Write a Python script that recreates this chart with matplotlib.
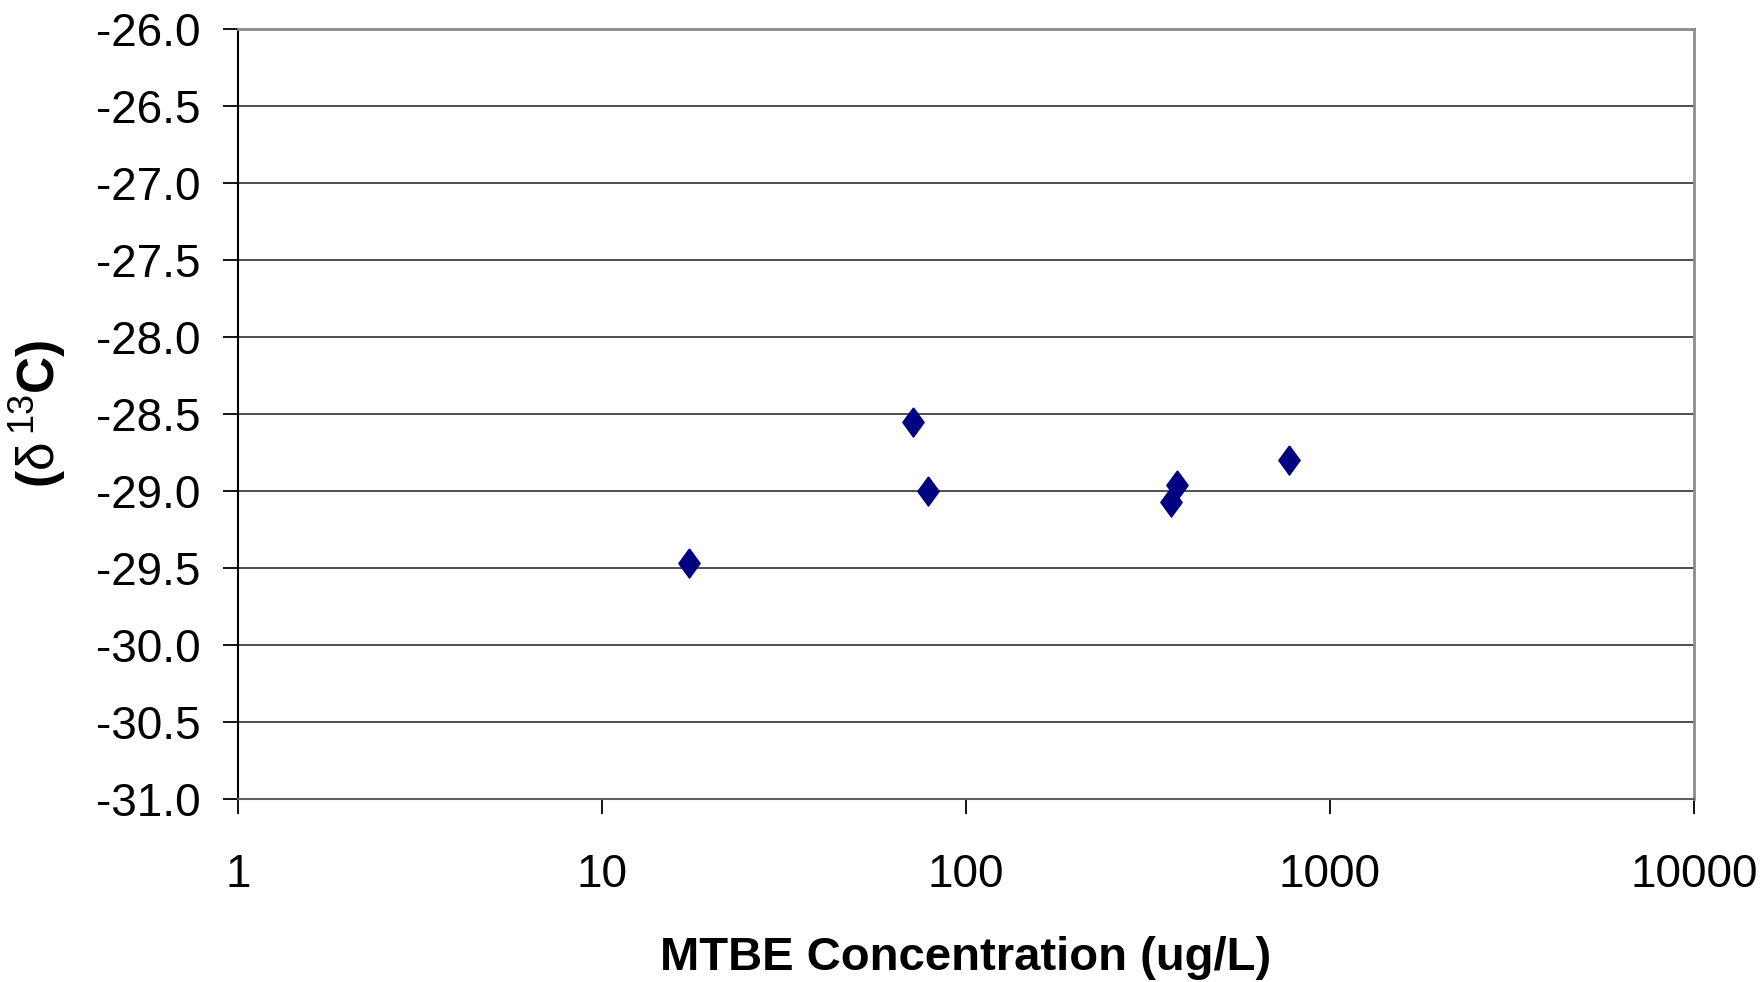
import matplotlib
matplotlib.use("Agg")
import matplotlib.pyplot as plt

plt.rcParams["font.family"] = ["Liberation Sans", "DejaVu Sans"]
plt.rcParams["mathtext.fontset"] = "custom"
plt.rcParams["mathtext.rm"] = "Liberation Sans"
plt.rcParams["mathtext.it"] = "Liberation Sans"

# MTBE concentration (ug/L) and delta 13C values
conc = [17.3, 71.3, 78.8, 379, 366, 773]
d13c = [-29.47, -28.55, -29.00, -28.96, -29.07, -28.80]

y_ticks = [-31.0, -30.5, -30.0, -29.5, -29.0, -28.5, -28.0, -27.5, -27.0, -26.5, -26.0]
x_ticks = [1, 10, 100, 1000, 10000]

fig = plt.figure(figsize=(17.64, 9.82), dpi=100)
ax = fig.add_axes([238 / 1764, 1 - 799 / 982, (1694 - 238) / 1764, (799 - 29) / 982])

diamond = [(0, 1), (0.73, 0), (0, -1), (-0.73, 0), (0, 1)]
ax.plot(conc, d13c, linestyle="none", marker=diamond, markersize=21,
        color="#000080", markeredgecolor="#000080", zorder=3)

ax.set_xscale("log")
ax.set_xlim(1, 10000)
ax.set_ylim(-31, -26)
ax.set_xticks(x_ticks)
ax.set_xticklabels([str(t) for t in x_ticks])
ax.xaxis.set_minor_locator(matplotlib.ticker.NullLocator())
ax.set_yticks(y_ticks)
ax.set_yticklabels([f"{t:.1f}" for t in y_ticks])

ax.grid(axis="y", color="#404040", linewidth=1.3)
ax.set_axisbelow(True)

for s in ["top", "right"]:
    ax.spines[s].set_color("#8c8c8c")
    ax.spines[s].set_linewidth(2)
ax.spines["left"].set_color("black")
ax.spines["left"].set_linewidth(1.5)
ax.spines["bottom"].set_color("#606060")
ax.spines["bottom"].set_linewidth(1.5)

ax.tick_params(axis="y", direction="out", length=11, width=1.3, labelsize=33, pad=16)
ax.tick_params(axis="x", direction="out", length=11, width=1.3, labelsize=33, pad=28)

ax.set_xlabel("MTBE Concentration (ug/L)", fontsize=34, fontweight="bold", labelpad=28)
ax.set_ylabel(r"($\mathrm{\delta\,^{13}}$C)", fontsize=37, fontweight="bold", labelpad=20)

fig.savefig("out.png", dpi=100, facecolor="white")
